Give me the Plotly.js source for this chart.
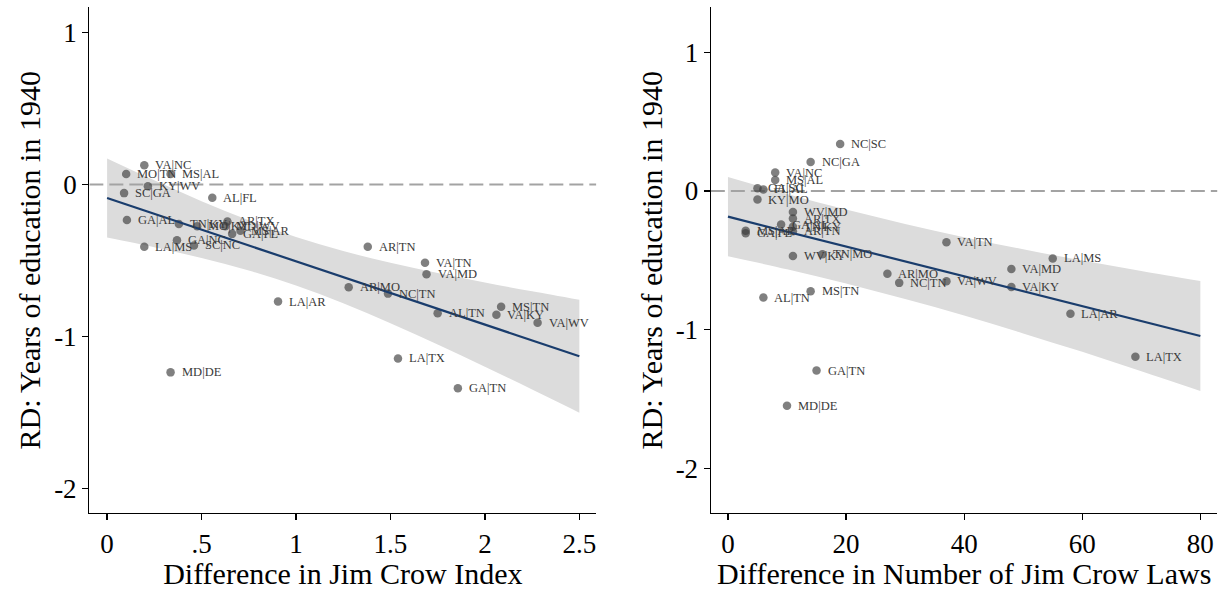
<!DOCTYPE html>
<html>
<head>
<meta charset="utf-8">
<script src="https://cdn.plot.ly/plotly-3.0.1.min.js"></script>
<style>html,body{margin:0;padding:0;background:#fff}#chart{width:1222px;height:590px}</style>
</head>
<body>
<div id="chart"></div>
<script>
// ---- Left panel: Difference in Jim Crow Index ----
const leftLabels = ["VA|NC","MO|TN","MS|AL","KY|WV","SC|GA","AL|FL","GA|AL","TN|KY","MO|KY","MD|WV","AR|TX","GA|FL","MS|AR","LA|MS","GA|NC","SC|NC","AR|TN","VA|TN","VA|MD","AR|MO","NC|TN","LA|AR","AL|TN","MS|TN","VA|KY","VA|WV","LA|TX","MD|DE","GA|TN"];
const leftX = [0.197,0.101,0.336,0.216,0.090,0.557,0.105,0.380,0.477,0.626,0.637,0.662,0.706,0.197,0.370,0.460,1.380,1.683,1.691,1.279,1.487,0.905,1.750,2.086,2.061,2.279,1.540,0.336,1.857];
const leftY = [0.126,0.069,0.069,-0.012,-0.057,-0.087,-0.233,-0.260,-0.275,-0.275,-0.243,-0.325,-0.305,-0.409,-0.367,-0.401,-0.409,-0.515,-0.590,-0.676,-0.718,-0.770,-0.847,-0.805,-0.857,-0.909,-1.144,-1.236,-1.340];
const leftFitX = [0,0.25,0.5,0.75,1.0,1.25,1.5,1.75,2.0,2.25,2.5];
const leftFit = [-0.089,-0.193,-0.297,-0.401,-0.505,-0.610,-0.714,-0.818,-0.922,-1.026,-1.130];
const leftUpper = [0.171,0.027,-0.110,-0.236,-0.345,-0.438,-0.515,-0.583,-0.645,-0.703,-0.759];
const leftLower = [-0.349,-0.413,-0.484,-0.566,-0.665,-0.782,-0.913,-1.053,-1.199,-1.349,-1.501];
const leftTickVals = [0,0.5,1,1.5,2,2.5];
const leftTickText = ["0",".5","1","1.5","2","2.5"];

// ---- Right panel: Difference in Number of Jim Crow Laws ----
const rightLabels = ["NC|SC","NC|GA","VA|NC","MS|AL","GA|SC","FL|AL","KY|MO","WV|MD","AR|TX","GA|AL","TN|KY","MS|AR","GA|FL","AR|TN","VA|TN","LA|MS","WV|KY","TN|MO","AR|MO","NC|TN","VA|WV","VA|MD","VA|KY","LA|AR","LA|TX","AL|TN","MS|TN","GA|TN","MD|DE"];
const rightX = [19,14,8,8,5,6,5,11,11,9,11,3,3,11,37,55,11,16,27,29,37,48,48,58,69,6,14,15,10];
const rightY = [0.339,0.209,0.133,0.079,0.019,0.011,-0.062,-0.151,-0.199,-0.242,-0.257,-0.286,-0.304,-0.290,-0.369,-0.486,-0.469,-0.456,-0.597,-0.662,-0.651,-0.562,-0.692,-0.885,-1.194,-0.768,-0.722,-1.294,-1.547];
const rightFitX = [0,10,20,30,40,50,60,70,80];
const rightFit = [-0.185,-0.293,-0.400,-0.508,-0.615,-0.723,-0.830,-0.938,-1.045];
const rightUpper = [0.100,-0.022,-0.134,-0.238,-0.333,-0.420,-0.501,-0.577,-0.649];
const rightLower = [-0.470,-0.564,-0.666,-0.778,-0.897,-1.026,-1.159,-1.299,-1.441];
const rightTickVals = [0,20,40,60,80];
const rightTickText = ["0","20","40","60","80"];

const yTickVals = [1,0,-1,-2];
const yTickText = ["1","0","-1","-2"];
const refY = 0;

const leftXRange = [-0.094, 2.59];
const leftYRange = [-2.161, 1.164];
const rightXRange = [-2.9, 82.9];
const rightYRange = [-2.32, 1.322];

const FONT = "Liberation Serif";
const BAND = "#dcdcdc";
const NAVY = "#1a3d6d";

function panel(xa, ya, fx, fit, up, lo, px, py, xr) {
  return [
    {x: fx, y: lo, xaxis: xa, yaxis: ya, mode: "lines", line: {width: 0, color: BAND, shape: "spline"}, hoverinfo: "skip", showlegend: false},
    {x: fx, y: up, xaxis: xa, yaxis: ya, mode: "lines", fill: "tonexty", fillcolor: BAND, line: {width: 0, color: BAND, shape: "spline"}, hoverinfo: "skip", showlegend: false},
    {x: xr, y: [refY, refY], xaxis: xa, yaxis: ya, mode: "lines", line: {color: "#a3a3a3", width: 2, dash: "14px,6px"}, hoverinfo: "skip", showlegend: false},
    {x: px, y: py, xaxis: xa, yaxis: ya, mode: "markers",
     marker: {size: 8.5, color: "rgba(60,60,60,0.65)", line: {width: 0}}, cliponaxis: false, showlegend: false},
    {x: fx, y: fit, xaxis: xa, yaxis: ya, mode: "lines", line: {color: NAVY, width: 2.2}, hoverinfo: "skip", showlegend: false}
  ];
}

function labelAnnots(xa, ya, px, py, labels) {
  return labels.map((t, i) => ({
    x: px[i], y: py[i], xref: xa, yref: ya, text: t, showarrow: false,
    xanchor: "left", yanchor: "middle", xshift: 9, yshift: 0,
    font: {family: FONT, size: 12.5, color: "#3a3a3a"}
  }));
}

const data = [].concat(
  panel("x", "y", leftFitX, leftFit, leftUpper, leftLower, leftX, leftY, leftXRange),
  panel("x2", "y2", rightFitX, rightFit, rightUpper, rightLower, rightX, rightY, rightXRange)
);

const axisCommon = {
  showline: true, linecolor: "#000", linewidth: 1.3, ticks: "outside", ticklen: 6, tickwidth: 1.3, tickcolor: "#000",
  showgrid: false, zeroline: false, tickfont: {family: FONT, size: 27, color: "#000"}, automargin: false
};

const TITLE_FONT = {family: FONT, size: 30, color: "#000"};
const yTitle = {text: "RD: Years of education in 1940", font: TITLE_FONT, standoff: 4};

const layout = {
  width: 1222, height: 590,
  margin: {l: 0, r: 0, t: 0, b: 0},
  paper_bgcolor: "#fff", plot_bgcolor: "#fff",
  showlegend: false,
  annotations: [].concat(
    labelAnnots("x", "y", leftX, leftY, leftLabels),
    labelAnnots("x2", "y2", rightX, rightY, rightLabels)
  ),
  xaxis: Object.assign({}, axisCommon, {domain: [0.0731, 0.4880], range: leftXRange, tickvals: leftTickVals, ticktext: leftTickText, anchor: "y",
    title: {text: "Difference in Jim Crow Index", font: TITLE_FONT, standoff: 0}}),
  yaxis: Object.assign({}, axisCommon, {domain: [0.1305, 0.9873], range: leftYRange, tickvals: yTickVals, ticktext: yTickText, anchor: "x", title: yTitle}),
  xaxis2: Object.assign({}, axisCommon, {domain: [0.5817, 0.9963], range: rightXRange, tickvals: rightTickVals, ticktext: rightTickText, anchor: "y2",
    title: {text: "Difference in Number of Jim Crow Laws", font: TITLE_FONT, standoff: 0}}),
  yaxis2: Object.assign({}, axisCommon, {domain: [0.1305, 0.9873], range: rightYRange, tickvals: yTickVals, ticktext: yTickText, anchor: "x2", title: yTitle})
};

Plotly.newPlot("chart", data, layout, {staticPlot: true, displayModeBar: false});
</script>
</body>
</html>
